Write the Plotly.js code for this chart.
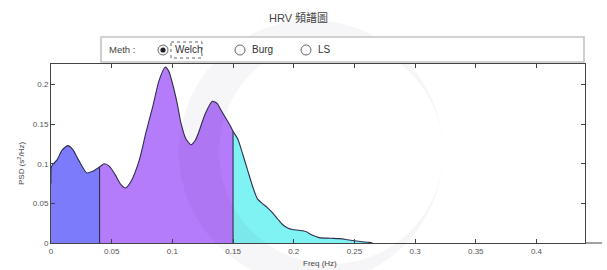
<!DOCTYPE html>
<html>
<head>
<meta charset="utf-8">
<script src="https://cdn.plot.ly/plotly-3.0.1.min.js"></script>
<style>html,body{margin:0;padding:0;background:#fff;}#chart{width:607px;height:270px;}</style>
</head>
<body>
<div id="chart"></div>
<script>
// ---- data ----
const freq = [0, 0.0005, 0.005, 0.009, 0.0138, 0.018, 0.023, 0.0295, 0.0344, 0.04,
  0.044, 0.048, 0.053, 0.0575, 0.0613, 0.066, 0.0728, 0.078, 0.0838, 0.089,
  0.094, 0.097, 0.100, 0.104, 0.107, 0.111, 0.1154, 0.119, 0.122, 0.127,
  0.133, 0.137, 0.140, 0.147, 0.15, 0.154, 0.158, 0.162, 0.166, 0.170,
  0.174, 0.178, 0.1826, 0.187, 0.191, 0.195, 0.199, 0.2045, 0.210, 0.215,
  0.221, 0.23, 0.2375, 0.243, 0.248, 0.255, 0.262, 0.265];
const psd = [0.075, 0.097, 0.105, 0.117, 0.123, 0.118, 0.104, 0.0884, 0.0905, 0.096,
  0.100, 0.097, 0.086, 0.074, 0.0694, 0.078, 0.105, 0.138, 0.172, 0.205,
  0.222, 0.217, 0.202, 0.176, 0.152, 0.132, 0.124, 0.130, 0.141, 0.163,
  0.179, 0.176, 0.168, 0.150, 0.141, 0.131, 0.112, 0.092, 0.072, 0.056,
  0.050, 0.045, 0.038, 0.030, 0.023, 0.019, 0.017, 0.016, 0.0145, 0.010,
  0.0068, 0.0060, 0.0055, 0.0045, 0.0032, 0.0018, 0.0008, 0];
const bandEdges = [0, 0.04, 0.15, 0.4];
const bandNames = ["VLF", "LF", "HF"];
const bandColors = ["#7b7bfb", "#b47bfb", "#7ff3f3"];
const xTicks = [0, 0.05, 0.1, 0.15, 0.2, 0.25, 0.3, 0.35, 0.4];
const xTickText = ["0", "0.05", "0.1", "0.15", "0.2", "0.25", "0.3", "0.35", "0.4"];
const yTicks = [0, 0.05, 0.1, 0.15, 0.2];
const yTickText = ["0", "0.05", "0.1", "0.15", "0.2"];
const methods = ["Welch", "Burg", "LS"];
const selectedMethod = "Welch";

// ---- geometry helpers (pixel -> paper) ----
const W = 607, H = 270, ML = 51, MR = 22, MT = 64, MB = 27;
const PW = W - ML - MR, PH = H - MT - MB;
const px = x => (x - ML) / PW;
const py = y => (H - MB - y) / PH;

const traces = [];
for (let b = 0; b < bandNames.length; b++) {
  const lo = bandEdges[b], hi = bandEdges[b + 1];
  const xs = [], ys = [];
  freq.forEach((f, i) => { if (f >= lo - 1e-9 && f <= hi + 1e-9) { xs.push(f); ys.push(psd[i]); } });
  traces.push({x: xs, y: ys, type: "scatter", mode: "lines", name: bandNames[b],
    fill: "tozeroy", fillcolor: bandColors[b], line: {width: 0, shape: "spline", smoothing: 0.6},
    hoverinfo: "skip", showlegend: false});
}
// outline
traces.push({x: freq, y: psd, type: "scatter", mode: "lines",
  line: {color: "#2e2e4e", width: 1.1, shape: "spline", smoothing: 0.6}, showlegend: false});
// band separators
[bandEdges[1], bandEdges[2]].forEach(e => {
  const i = freq.indexOf(e);
  traces.push({x: [e, e], y: [0, psd[i]], type: "scatter", mode: "lines",
    line: {color: "#2e2e4e", width: 1.1}, showlegend: false});
});

// ---- decorations ----
const shapes = [];
// watermark crescent
(function () {
  const pts = [];
  const oc = [311, 152], orr = 132, ic = [331, 152], ir = 112;
  for (let a = 0; a <= 360; a += 4) { const t = a * Math.PI / 180; pts.push([oc[0] + orr * Math.cos(t), oc[1] + orr * Math.sin(t)]); }
  for (let a = 360; a >= 0; a -= 4) { const t = a * Math.PI / 180; pts.push([ic[0] + ir * Math.cos(t), ic[1] + ir * Math.sin(t)]); }
  const path = pts.map((p, k) => (k ? "L" : "M") + px(p[0]).toFixed(4) + "," + py(p[1]).toFixed(4)).join(" ") + " Z";
  shapes.push({type: "path", xref: "paper", yref: "paper", path: path,
    fillcolor: "rgba(40,20,60,0.045)", line: {width: 0}, layer: "above"});
})();
// axis extension at bottom right
shapes.push({type: "line", xref: "paper", yref: "paper", x0: 1, x1: px(602), y0: 0, y1: 0,
  line: {color: "#444", width: 1}});
// radio panel box
shapes.push({type: "rect", xref: "paper", yref: "paper", x0: px(101), x1: px(584), y0: py(37), y1: py(62),
  line: {color: "#c4c4c4", width: 1.6}, fillcolor: "#ffffff", layer: "above"});
const radioX = [163, 240, 306];
const annotations = [];
methods.forEach((m, k) => {
  const cx = radioX[k], cy = 50, r = 5;
  shapes.push({type: "circle", xref: "paper", yref: "paper", x0: px(cx - r), x1: px(cx + r), y0: py(cy + r), y1: py(cy - r),
    line: {color: "#6a6a6a", width: 1}, fillcolor: "#fbfbfb", layer: "above"});
  if (m === selectedMethod) {
    shapes.push({type: "circle", xref: "paper", yref: "paper", x0: px(cx - 2.6), x1: px(cx + 2.6), y0: py(cy + 2.6), y1: py(cy - 2.6),
      line: {color: "#222", width: 0}, fillcolor: "#222", layer: "above"});
    shapes.push({type: "rect", xref: "paper", yref: "paper", x0: px(cx + 8), x1: px(cx + 39), y0: py(42), y1: py(58),
      line: {color: "#666", width: 1, dash: "dot"}, layer: "above"});
  }
  annotations.push({text: m, xref: "paper", yref: "paper", x: px(cx + 10), y: py(50), xanchor: "left", yanchor: "middle",
    showarrow: false, font: {family: "Liberation Sans, Arial, sans-serif", size: 10, color: "#333"}});
});
annotations.push({text: "Meth :", xref: "paper", yref: "paper", x: px(107), y: py(50), xanchor: "left", yanchor: "middle",
  showarrow: false, font: {family: "Liberation Sans, Arial, sans-serif", size: 9.5, color: "#444"}});
annotations.push({text: "HRV 頻譜圖", xref: "paper", yref: "paper", x: px(298), y: py(17), xanchor: "center", yanchor: "middle",
  showarrow: false, font: {family: "Liberation Sans, Noto Sans CJK TC, sans-serif", size: 11, color: "#444"}});
annotations.push({text: "Freq (Hz)", xref: "paper", yref: "paper", x: px(320), y: py(263), xanchor: "center", yanchor: "middle",
  showarrow: false, font: {family: "Liberation Sans, Arial, sans-serif", size: 8, color: "#444"}});
annotations.push({text: "PSD (s<sup>2</sup>/Hz)", xref: "paper", yref: "paper", x: px(21), y: py(164), xanchor: "center", yanchor: "middle",
  textangle: -90, showarrow: false, font: {family: "Liberation Sans, Arial, sans-serif", size: 8, color: "#444"}});

const axisFont = {family: "Liberation Sans, Arial, sans-serif", size: 8, color: "#555"};
const layout = {
  width: W, height: H, margin: {l: ML, r: MR, t: MT, b: MB, pad: 0},
  paper_bgcolor: "#fff", plot_bgcolor: "#fff", showlegend: false,
  xaxis: {range: [0, 0.44], tickvals: xTicks, ticktext: xTickText, ticks: "inside", ticklen: 4,
    tickcolor: "#444", showline: true, linecolor: "#444", linewidth: 1, mirror: "ticks",
    showgrid: false, zeroline: false, tickfont: axisFont, fixedrange: true},
  yaxis: {range: [0, 0.226], tickvals: yTicks, ticktext: yTickText, ticks: "inside", ticklen: 4,
    tickcolor: "#444", showline: true, linecolor: "#444", linewidth: 1, mirror: "ticks",
    showgrid: false, zeroline: false, tickfont: axisFont, fixedrange: true},
  shapes: shapes, annotations: annotations
};
Plotly.newPlot("chart", traces, layout, {displayModeBar: false, staticPlot: true});
</script>
</body>
</html>
